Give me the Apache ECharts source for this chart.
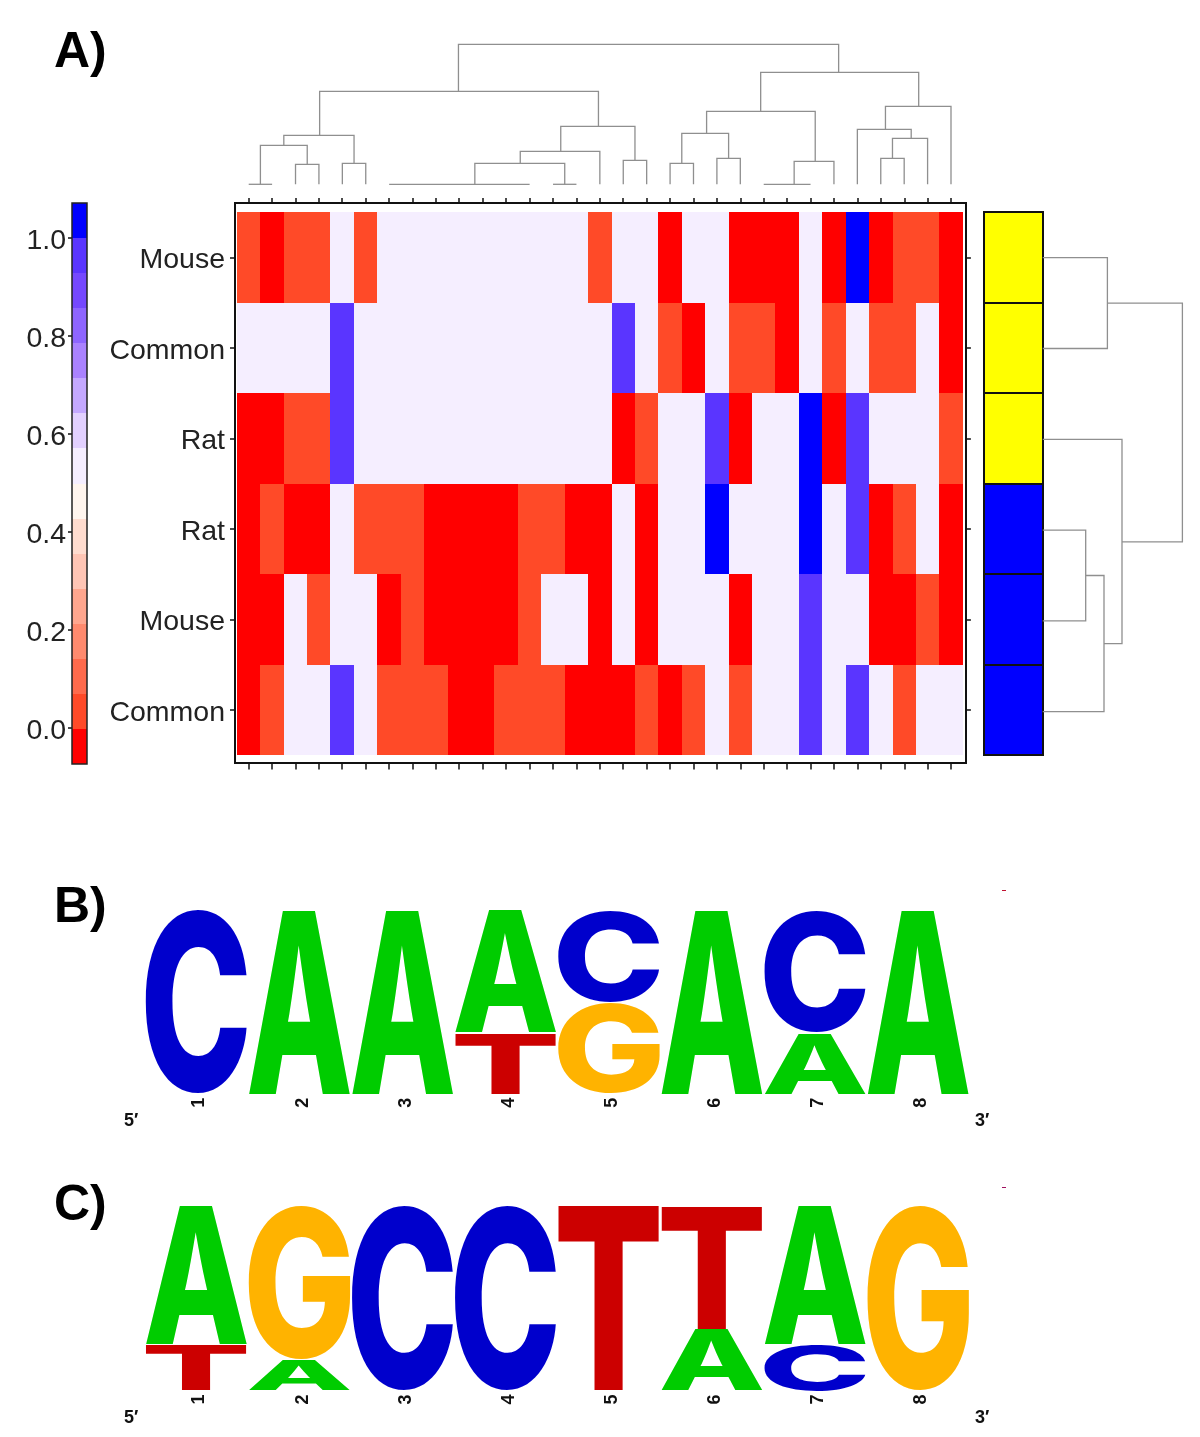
<!DOCTYPE html>
<html><head><meta charset="utf-8">
<style>html,body{margin:0;padding:0;background:#fff}#c{width:1200px;height:1437px}</style>
<script src="https://cdn.jsdelivr.net/npm/echarts@6/dist/echarts.min.js"></script></head>
<body><div id="c"></div>
<script>
// ---------- Data ----------
const R = 0, O = 0.05, W = 0.51, P = 0.95, B = 1;
const rowLabels = ['Mouse', 'Common', 'Rat', 'Rat', 'Mouse', 'Common'];
const row0 = [O,R,O,O,W,O,W,W,W,W,W,W,W,W,W,O,W,W,R,W,W,R,R,R,W,R,B,R,O,O,R];
const row1 = [W,W,W,W,P,W,W,W,W,W,W,W,W,W,W,W,P,W,O,R,W,O,O,R,W,O,W,O,O,W,R];
const row2 = [R,R,O,O,P,W,W,W,W,W,W,W,W,W,W,W,R,O,W,W,P,R,W,W,B,R,P,W,W,W,O];
const row3 = [R,O,R,R,W,O,O,O,R,R,R,R,O,O,R,R,W,R,W,W,B,W,W,W,B,W,P,R,O,W,R];
const row4 = [R,R,W,O,W,W,R,O,R,R,R,R,O,W,W,R,W,R,W,W,W,R,W,W,P,W,W,R,R,O,R];
const row5 = [R,O,W,W,P,W,O,O,O,R,R,O,O,O,R,R,R,O,R,O,W,O,W,W,P,W,P,W,O,W,W];
const heatRows = [row0,row1,row2,row3,row4,row5];
const colLabels = Array.from({length:31},(_,i)=>String(i+1));

const scaleCenters = [-0.036,0.036,0.107,0.179,0.25,0.321,0.393,0.464,0.536,0.607,0.679,0.75,0.821,0.893,0.964,1.036];
const scaleEdges = [-0.0712,0.0002,0.0716,0.143,0.2144,0.2858,0.3572,0.4286,0.5,0.5714,0.6428,0.7142,0.7856,0.857,0.9284,0.9998,1.0712];
const scaleColors = ['#ff0000','#ff4a28','#ff6a4c','#ff8a6e','#ffa68e','#ffc5b5','#ffdccf','#fff5ee','#f5eeff','#e2d0ff','#c4a8ff','#aa82ff','#8e65ff','#7548ff','#5a35ff','#0000ff'];
const scaleTicks = [0,0.2,0.4,0.6,0.8,1];

const sideGroup = [1,1,1,0,0,0]; // 1 yellow, 0 blue

// merges: [left leaf pos, right leaf pos, merge height, left child height, right child height]
const topMerges = [
 [0,1,0,0,0],[2,3,20,0,0],[0.5,2.5,39,0,20],[4,5,21,0,0],[1.5,4.5,49,39,21],
 [6,12,0,0,0],[13,14,0,0,0],[9.66,13.5,21,0,0],[11.6,15,33,21,0],[16,17,24,0,0],
 [13.33,16.5,58,33,24],[3.03,14.94,93,49,58],
 [18,19,21,0,0],[20,21,26,0,0],[18.5,20.5,51,21,26],[22,24,0,0,0],[23.3,25,23,0,0],
 [19.56,24.2,73,51,23],[27,28,26,0,0],[27.5,29,46,26,0],[26,28.3,55,0,46],
 [27.2,30,78,55,0],[21.87,28.62,112,73,78],[8.96,25.2,140,93,112]
];
const sideMerges = [
 [0,1,64.7,0,0],[3,4,43,0,0],[3.5,5,61.3,43,0],[2,4.25,79.3,0,61.3],[0.5,3.13,139.7,64.7,79.3]
];

const logoPositions = ['1','2','3','4','5','6','7','8'];
const logoBLetters = [['C'],['A'],['A'],['T','A'],['G','C'],['A'],['A','C'],['A']];
const logoBHeights = [[1],[1],[1],[0.33,0.665],[0.495,0.5],[1],[0.33,0.66],[1]];
const logoCLetters = [['T','A'],['A','G'],['C'],['C'],['T'],['A','T'],['C','A'],['G']];
const logoCHeights = [[0.245,0.75],[0.165,0.83],[1],[1],[1],[0.33,0.665],[0.245,0.75],[1]];
const letterColors = {A:'#00cc00',C:'#0000cc',G:'#ffb300',T:'#cc0000'};

// ---------- Helpers ----------
const FONT = '"Liberation Sans", Arial, sans-serif';
const LOGO_FONT = '800 100px Inter, ' + FONT;
const mctx = document.createElement('canvas').getContext('2d');
mctx.font = LOGO_FONT; mctx.textBaseline = 'middle'; mctx.textAlign = 'left';
const glyph = {};
'ACGT'.split('').forEach(l => {
  const m = mctx.measureText(l);
  glyph[l] = {left:m.actualBoundingBoxLeft,right:m.actualBoundingBoxRight,asc:m.actualBoundingBoxAscent,desc:m.actualBoundingBoxDescent};
});

function heatData(){
  const out=[];
  heatRows.forEach((row,y)=>row.forEach((v,x)=>out.push([x,y,v])));
  return out;
}
// Crisp heat cells: band edges come from the axes, rounded to whole pixels so no seams show.
function cellSeries(xi,yi,data,extraStyle){
  return {
    type:'custom',xAxisIndex:xi,yAxisIndex:yi,clip:false,silent:true,data,
    encode:{x:0,y:1},
    renderItem(params,api){
      const c=api.coord([api.value(0),api.value(1)]), s=api.size([1,1]);
      const x0=Math.round(c[0]-s[0]/2), x1=Math.round(c[0]+s[0]/2);
      const y0=Math.round(c[1]-s[1]/2), y1=Math.round(c[1]+s[1]/2);
      return {type:'rect',silent:true,shape:{x:x0,y:y0,width:x1-x0,height:y1-y0},
        style:Object.assign({fill:api.visual('color')},extraStyle||{})};
    }
  };
}
function logoSeries(letters,heights,gridIdx){
  const items=[];
  letters.forEach((stack,i)=>{
    stack.forEach((l,j)=>{
      const h=heights[i][j];
      const upper=j===stack.length-1;
      items.push({pos:i,letter:l,lo:upper?1-h:0,hi:upper?1:h});
    });
  });
  return {
    type:'custom',xAxisIndex:gridIdx.x,yAxisIndex:gridIdx.y,clip:false,silent:true,
    data:items.map(d=>[d.pos,d.lo,d.hi]),
    encode:{x:0,y:[1,2]},
    renderItem(params,api){
      const d=items[params.dataIndex], g=glyph[d.letter];
      const bw=api.size([1,0])[0]*0.983;
      const c=api.coord([api.value(0),api.value(2)]);
      const b=api.coord([api.value(0),api.value(1)]);
      const top=c[1], bot=b[1], left=c[0]-bw/2;
      const sx=bw/(g.left+g.right), sy=(bot-top)/(g.asc+g.desc);
      return {type:'text',x:left+sx*g.left,y:top+sy*g.asc,scaleX:sx,scaleY:sy,silent:true,
        style:{text:d.letter,font:LOGO_FONT,fill:letterColors[d.letter],align:'left',verticalAlign:'middle'}};
    }
  };
}
function mergeSeries(merges,xi,yi,horizontal){
  return {
    type:'custom',xAxisIndex:xi,yAxisIndex:yi,clip:false,silent:true,data:merges,
    encode:horizontal?{x:[2,3,4],y:[0,1]}:{x:[0,1],y:[2,3,4]},
    renderItem(params,api){
      const a=api.value(0),b=api.value(1),h=api.value(2),ha=api.value(3),hb=api.value(4);
      const pt=(p,q)=>horizontal?api.coord([q,p]):api.coord([p,q]);
      return {type:'polyline',silent:true,
        shape:{points:[pt(a,ha),pt(a,h),pt(b,h),pt(b,hb)]},
        style:{stroke:'#8f8f8f',lineWidth:1.3,fill:null}};
    }
  };
}
const tickLine={lineStyle:{color:'#111',width:1.5}};
const bigLabel={color:'#222',fontFamily:FONT,fontSize:28.5,verticalAlign:'top'};
const hiddenCat=(gridIndex,n)=>({type:'category',gridIndex,show:false,data:Array.from({length:n},(_,i)=>i)});
const hiddenVal=(gridIndex,min,max,extra)=>Object.assign({type:'value',gridIndex,show:false,min,max,splitLine:{show:false}},extra||{});
const digitAxis=(gridIndex)=>({type:'category',gridIndex,data:logoPositions,position:'bottom',
  axisLine:{show:false},axisTick:{show:false},splitLine:{show:false},
  axisLabel:{interval:0,rotate:90,margin:4,verticalAlign:'top',lineHeight:6,fontFamily:FONT,fontWeight:'bold',fontSize:18,color:'#111'}});
const panelTitle=(text,top)=>({text,left:49,top,textStyle:{fontFamily:FONT,fontWeight:'bold',fontSize:50,color:'#000'}});
const endTitle=(text,left,top)=>({text,left,top,textStyle:{fontFamily:FONT,fontWeight:'bold',fontSize:18,color:'#111'}});

const option={
  animation:false,backgroundColor:'#fff',
  title:[
    panelTitle('A)',23),panelTitle('B)',878),panelTitle('C)',1176),
    endTitle('5′',119,1107),endTitle('3′',970,1107),endTitle('5′',119,1404),endTitle('3′',970,1404)
  ],
  graphic:[
    {type:'rect',shape:{x:1002,y:890,width:4,height:1},style:{fill:'#c01030'},silent:true},
    {type:'rect',shape:{x:1002,y:1187,width:4,height:1},style:{fill:'#a01060'},silent:true}
  ],
  grid:[
    {left:235,top:203,width:731,height:560,show:true,borderColor:'#111',borderWidth:2,backgroundColor:'#fff'}, // 0 frame
    {left:236.7,top:212,width:726.2,height:543},                                 // 1 heatmap
    {left:72,top:203,width:15,height:561,show:true,z:5,borderColor:'#222',borderWidth:1.5,backgroundColor:'transparent'}, // 2 scale
    {left:984,top:212,width:58.5,height:543},                                    // 3 side strip
    {left:248.7,top:44.3,width:702.3,height:140},                                // 4 top dendrogram
    {left:1042.7,top:257.7,width:140,height:454},                                // 5 side dendrogram
    {left:144.9,top:910,width:825,height:183.7},                                 // 6 logo B
    {left:144.9,top:1205.7,width:825,height:184.7}                               // 7 logo C
  ],
  xAxis:[
    {type:'category',gridIndex:1,data:colLabels,position:'bottom',offset:8.5,axisLine:{show:false},
     axisTick:Object.assign({show:true,alignWithLabel:true,length:6},tickLine),axisLabel:{show:false},splitLine:{show:false}},
    {type:'category',gridIndex:1,data:colLabels,position:'top',offset:9,axisLine:{show:false},
     axisTick:Object.assign({show:true,alignWithLabel:true,length:5},tickLine),axisLabel:{show:false},splitLine:{show:false}},
    hiddenCat(2,1),
    hiddenCat(3,1),
    hiddenVal(4,0,30),
    hiddenVal(5,0,140),
    digitAxis(6),
    digitAxis(7)
  ],
  yAxis:[
    {type:'category',gridIndex:1,inverse:true,data:rowLabels,position:'left',offset:1.7,axisLine:{show:false},
     axisTick:Object.assign({show:true,alignWithLabel:true,length:5},tickLine),
     axisLabel:Object.assign({interval:0,margin:10,lineHeight:6},bigLabel),splitLine:{show:false}},
    {type:'category',gridIndex:1,inverse:true,data:rowLabels,position:'right',offset:3,axisLine:{show:false},
     axisTick:Object.assign({show:true,alignWithLabel:true,length:5},tickLine),axisLabel:{show:false},splitLine:{show:false}},
    hiddenCat(2,16),
    {type:'value',gridIndex:2,position:'left',min:-0.0734,max:1.0708,splitLine:{show:false},axisLine:{show:false},
     axisTick:Object.assign({show:true,length:4,customValues:scaleTicks},tickLine),
     axisLabel:Object.assign({customValues:scaleTicks,margin:6,lineHeight:7,formatter:v=>v.toFixed(1)},bigLabel)},
    Object.assign(hiddenCat(3,6),{inverse:true}),
    hiddenVal(4,0,140),
    hiddenVal(5,0,5,{inverse:true}),
    hiddenVal(6,0,1),
    hiddenVal(7,0,1)
  ],
  visualMap:[
    {type:'piecewise',show:false,seriesIndex:[0,1],dimension:2,
     pieces:scaleColors.map((color,k)=>({gte:scaleEdges[k],lt:scaleEdges[k+1],color}))},
    {type:'piecewise',show:false,seriesIndex:2,dimension:2,
     pieces:[{value:1,color:'#ffff00'},{value:0,color:'#0000ff'}]}
  ],
  series:[
    cellSeries(0,0,heatData()),
    cellSeries(2,2,scaleCenters.map((v,k)=>[0,k,v])),
    cellSeries(3,4,sideGroup.map((v,k)=>[0,k,v]),{stroke:'#111',lineWidth:2}),
    mergeSeries(topMerges,4,5,false),
    mergeSeries(sideMerges,5,6,true),
    logoSeries(logoBLetters,logoBHeights,{x:6,y:7}),
    logoSeries(logoCLetters,logoCHeights,{x:7,y:8})
  ]
};
const chart=echarts.init(document.getElementById('c'),null,{renderer:'canvas'});
chart.setOption(option);
</script></body></html>
